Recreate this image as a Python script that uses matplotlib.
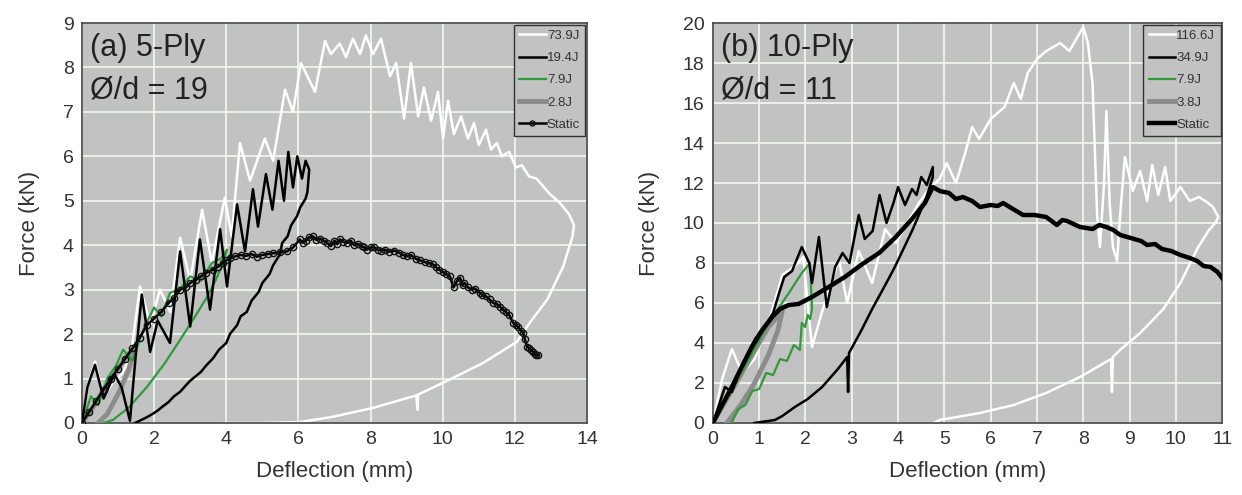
"""Force-deflection curves, 5-ply and 10-ply panels."""

import matplotlib

matplotlib.use("Agg")

import matplotlib.pyplot as plt

plt.rcParams["font.family"] = ["Liberation Sans", "DejaVu Sans"]

# ---- panel (a) 5-Ply ----
a_white_x = [0, 0.15, 0.36, 0.6, 0.85, 1.1, 1.35, 1.61, 1.9, 2.16, 2.45, 2.72, 3.0, 3.33, 3.6,
             3.96, 4.15, 4.38, 4.66, 5.07, 5.3, 5.63, 5.85, 6.07, 6.46, 6.74, 6.9, 7.15, 7.32,
             7.51, 7.71, 7.87, 8.07, 8.29, 8.54, 8.71, 8.93, 9.12, 9.32, 9.48, 9.68, 9.87,
             10.01, 10.15, 10.31, 10.51, 10.7, 10.87, 11.0, 11.2, 11.34, 11.5, 11.64, 11.84,
             12.03, 12.2, 12.39, 12.6, 12.95, 13.25, 13.5, 13.64,
             13.6, 13.34, 12.9, 12.42, 12.06, 11.12, 10.0, 9.32, 9.3, 9.27, 8.07, 6.96, 6.04,
             5.0, 3.95]
a_white_y = [0, 0.8, 1.38, 0.6, 0.9, 1.1, 1.5, 3.07, 2.2, 3.0, 2.5, 4.17, 3.2, 4.8, 3.6,
             5.07, 4.2, 6.3, 5.45, 6.4, 5.9, 7.5, 7.0, 8.1, 7.45, 8.6, 8.3, 8.54, 8.23,
             8.65, 8.3, 8.72, 8.3, 8.65, 7.8, 8.1, 6.85, 8.1, 6.9, 7.55, 6.8, 7.45,
             6.4, 7.25, 6.5, 6.9, 6.4, 6.75, 6.25, 6.6, 6.15, 6.3, 6.0, 6.1,
             5.75, 5.8, 5.55, 5.5, 5.17, 4.95, 4.7, 4.45,
             4.2, 3.52, 2.78, 2.26, 1.83, 1.35, 0.9, 0.64, 0.3, 0.62, 0.34, 0.14, 0.02,
             0.0, 0.0]

a_black_x = [0, 0.15, 0.36, 0.6, 0.9, 1.1, 1.33, 1.5, 1.66, 1.89, 2.1, 2.44, 2.72, 3.0, 3.27,
             3.55, 3.83, 4.02, 4.3, 4.52, 4.74, 4.88, 5.1, 5.28, 5.45, 5.6, 5.72, 5.85, 5.97,
             6.1, 6.2, 6.3,
             6.25, 6.2, 6.05, 5.96, 5.8, 5.7, 5.55, 5.49, 5.3, 5.2, 5.0, 4.9, 4.7, 4.57, 4.4,
             4.3, 4.1, 4.0, 3.8, 3.63, 3.45, 3.3, 3.15, 3.0, 2.85, 2.72, 2.55, 2.4, 2.25, 2.1,
             1.95, 1.8, 1.6, 1.47]
a_black_y = [0, 0.8, 1.31, 0.55, 1.1, 0.8, 0.05, 1.6, 2.89, 1.6, 2.3, 1.8, 3.86, 2.17, 4.13,
             2.55, 4.36, 3.07, 4.92, 3.86, 5.26, 4.42, 5.6, 4.8, 5.9, 5.0, 6.1, 5.3, 6.0,
             5.5, 5.9, 5.7,
             5.2, 5.05, 4.85, 4.65, 4.45, 4.2, 4.05, 3.8, 3.55, 3.35, 3.15, 2.95, 2.75, 2.5, 2.4,
             2.2, 2.0, 1.8, 1.65, 1.45, 1.3, 1.15, 1.05, 0.95, 0.82, 0.7, 0.6, 0.47, 0.38, 0.28,
             0.2, 0.13, 0.05, 0.0]

a_green_x = [0, 0.25, 0.45, 0.7, 0.95, 1.14, 1.4, 1.7, 2.0, 2.2, 2.44, 2.7, 3.0, 3.3, 3.6,
             3.85, 4.02, 3.91, 3.7, 3.47, 3.1, 2.72, 2.3, 1.8, 1.3, 0.86, 0.6]
a_green_y = [0, 0.6, 0.4, 1.0, 1.3, 1.65, 1.4, 2.1, 2.6, 2.4, 2.93, 3.0, 3.3, 3.2, 3.6,
             3.7, 3.9, 3.6, 3.2, 2.84, 2.35, 1.87, 1.35, 0.81, 0.35, 0.07, 0.0]

a_gray_x = [0, 0.3, 0.6, 0.9, 1.2, 1.45, 1.3, 1.0, 0.7, 0.45]
a_gray_y = [0, 0.35, 0.75, 1.1, 1.45, 1.7, 1.2, 0.65, 0.2, 0.0]

a_static_x = [0, 0.2, 0.4, 0.6, 0.8, 1.0, 1.2, 1.4, 1.6, 1.8, 2.0, 2.2, 2.4, 2.56, 2.72, 2.88,
              3.0, 3.15, 3.3, 3.45, 3.63, 3.78, 3.9, 4.0, 4.1, 4.25, 4.4, 4.55, 4.7, 4.85, 5.0,
              5.15, 5.3, 5.5, 5.68, 5.85, 6.04, 6.12, 6.2, 6.3, 6.4, 6.5, 6.6, 6.7, 6.8, 6.9,
              7.0, 7.08, 7.15, 7.25, 7.35, 7.45, 7.55, 7.65, 7.75, 7.82, 7.9, 8.0, 8.1, 8.2,
              8.3, 8.4, 8.5, 8.65, 8.8, 8.9, 9.0, 9.12, 9.25, 9.38, 9.5, 9.62, 9.73, 9.82, 9.9,
              10.0, 10.1, 10.2, 10.3, 10.4, 10.48, 10.55, 10.6, 10.7, 10.8, 10.9, 11.03, 11.1,
              11.2, 11.3, 11.4, 11.5, 11.59, 11.67, 11.75, 11.85, 11.95, 12.03, 12.1, 12.17,
              12.23, 12.28, 12.34, 12.4, 12.45, 12.5, 12.55, 12.6, 12.64]
a_static_y = [0, 0.25, 0.5, 0.75, 1.0, 1.22, 1.45, 1.68, 1.92, 2.2, 2.35, 2.5, 2.7, 2.82, 3.0,
              3.05, 3.15, 3.22, 3.3, 3.38, 3.45, 3.52, 3.6, 3.66, 3.72, 3.75, 3.78, 3.76, 3.8,
              3.74, 3.78, 3.8, 3.82, 3.84, 3.86, 3.95, 4.13, 4.05, 4.1, 4.18, 4.2, 4.12, 4.15,
              4.1, 4.05, 3.98, 4.1, 4.02, 4.13, 4.08, 4.05, 4.1, 4.0, 4.03, 3.98, 3.95, 3.9,
              3.95, 3.95, 3.9, 3.88, 3.9, 3.85, 3.88, 3.83, 3.78, 3.75, 3.78, 3.7, 3.66, 3.62,
              3.6, 3.57, 3.5, 3.45, 3.4, 3.35, 3.3, 3.05, 3.2, 3.27, 3.1, 3.15, 3.05, 3.0, 3.02,
              2.93, 2.88, 2.85, 2.78, 2.7, 2.68, 2.62, 2.55, 2.5, 2.42, 2.26, 2.2, 2.15, 2.08,
              2.03, 1.88, 1.72, 1.68, 1.65, 1.6, 1.55, 1.52, 1.53]

a_labels = ["73.9J", "19.4J", "7.9J", "2.8J", "Static"]

# ---- panel (b) 10-Ply ----
b_white_x = [0, 0.2, 0.41, 0.63, 0.9, 1.2, 1.5, 1.75, 1.95, 2.14, 2.35, 2.72, 2.9, 3.15, 3.44,
             3.72, 3.95, 4.2, 4.45, 4.7, 4.9, 5.05, 5.25, 5.45, 5.6, 5.75, 6.0, 6.3, 6.5, 6.65,
             6.8, 7.0, 7.2, 7.5, 7.7, 7.85, 8.0, 8.1, 8.2, 8.3, 8.36, 8.45, 8.5, 8.57, 8.64,
             8.73, 8.8, 8.9, 9.07, 9.23, 9.38, 9.49, 9.62, 9.77, 9.88, 10.1, 10.3, 10.5, 10.7,
             10.8, 10.92,
             10.85, 10.7, 10.46, 10.1, 9.73, 9.23, 8.8, 8.64, 8.62, 8.6, 7.93, 7.2, 6.5, 5.77,
             4.9, 4.77]
b_white_y = [0, 2.2, 3.7, 2.5, 3.2, 5.0, 7.4, 7.8, 8.3, 3.8, 5.5, 8.2, 6.0, 8.6, 7.0,
             9.7, 9.0, 10.0, 11.0, 11.8, 12.2, 13.0, 12.0, 13.5, 14.8, 14.2, 15.2, 15.8, 17.0, 16.2,
             17.5, 18.2, 18.6, 19.0, 18.6, 19.2, 19.8, 19.0, 17.0, 10.4, 8.8, 12.0, 15.6, 11.0, 8.8,
             8.1, 10.5, 13.3, 11.6, 12.6, 11.1, 12.9, 11.4, 12.8, 11.1, 11.8, 11.1, 11.3, 11.0,
             10.8, 10.3,
             10.0, 9.6, 8.7, 7.0, 5.7, 4.5, 3.66, 3.3, 1.55, 3.2, 2.3, 1.5, 0.9, 0.5,
             0.15, 0.0]

b_black_x = [0, 0.26, 0.41, 0.65, 0.91, 1.12, 1.3, 1.43, 1.54, 1.71, 1.92, 2.08, 2.14, 2.29,
             2.46, 2.64, 2.8, 2.95, 3.15, 3.28, 3.45, 3.6, 3.75, 3.9, 4.0, 4.15, 4.3, 4.4, 4.5,
             4.62, 4.75,
             4.75, 4.6, 4.3, 3.93, 3.7, 3.44, 3.2, 2.94, 2.92, 2.9, 2.7, 2.36, 2.05, 1.77, 1.5,
             1.34, 0.9]
b_black_y = [0, 1.8, 1.55, 3.0, 4.2, 4.8, 5.5, 6.5, 7.3, 7.6, 8.8, 8.0, 7.0, 9.3,
             5.8, 7.8, 8.5, 8.0, 10.4, 9.2, 9.6, 11.4, 10.0, 11.0, 11.8, 10.9, 11.7, 11.4, 12.3,
             11.9, 12.8,
             12.3, 11.2, 9.6, 7.8, 6.8, 5.7, 4.6, 3.5, 1.55, 3.3, 2.7, 1.8, 1.2, 0.8, 0.35,
             0.15, 0.0]

b_green_x = [0, 0.4, 0.8, 1.2, 1.64, 1.92, 2.1, 2.14, 2.1, 2.05, 1.99, 1.92, 1.88, 1.75, 1.6,
             1.45, 1.3, 1.15, 1.0, 0.85, 0.7, 0.55, 0.4]
b_green_y = [0, 1.6, 3.3, 5.0, 6.5, 7.5, 8.0, 5.7, 5.2, 5.4, 4.8, 5.0, 3.65, 3.9, 3.1,
             3.2, 2.4, 2.5, 1.7, 1.6, 0.9, 0.7, 0.0]

b_gray_x = [0, 0.4, 0.8, 1.2, 1.5, 1.4, 1.2, 0.9, 0.6, 0.3]
b_gray_y = [0, 1.6, 3.2, 4.8, 5.6, 4.6, 3.4, 2.0, 0.9, 0.0]

b_static_x = [0, 0.2, 0.41, 0.6, 0.84, 1.05, 1.28, 1.45, 1.64, 1.85, 2.14, 2.5, 2.85, 3.2, 3.59,
              3.95, 4.3, 4.58, 4.75, 4.9, 5.1, 5.25, 5.4, 5.6, 5.77, 6.0, 6.15, 6.27, 6.48, 6.7,
              6.95, 7.2, 7.43, 7.55, 7.65, 7.93, 8.2, 8.35, 8.5, 8.65, 8.8, 9.1, 9.25, 9.38,
              9.55, 9.7, 9.9, 10.1, 10.3, 10.46, 10.6, 10.75, 10.9, 11.0]
b_static_y = [0, 0.9, 1.8, 2.7, 3.8, 4.6, 5.3, 5.7, 5.9, 5.95, 6.3, 6.8, 7.3, 7.9, 8.5,
              9.3, 10.2, 11.0, 11.8, 11.6, 11.5, 11.2, 11.3, 11.1, 10.8, 10.9, 10.85, 11.0, 10.7,
              10.4, 10.4, 10.3, 9.9, 10.15, 10.1, 9.8, 9.7, 9.9, 9.8, 9.65, 9.4, 9.2, 9.1, 8.9,
              8.95, 8.7, 8.6, 8.4, 8.25, 8.1, 7.85, 7.8, 7.55, 7.25]

b_labels = ["116.6J", "34.9J", "7.9J", "3.8J", "Static"]

AX_BG = "#c2c2c2"
GRID = "#eef4ee"
INK = "#333333"
GREEN = "#2f9a3a"
GRAY = "#8c8c8c"


def draw_panel(ax, series, labels, static_marker, xmax, xstep, ymax, ystep, title):
    (wx, wy), (bx, by), (gx, gy), (rx, ry), (sx, sy) = series
    ax.set_facecolor(AX_BG)
    h_white, = ax.plot(wx, wy, color="white", lw=1.8, label=labels[0], zorder=2)
    h_gray, = ax.plot(rx, ry, color=GRAY, lw=3.5, label=labels[3], zorder=3)
    h_green, = ax.plot(gx, gy, color=GREEN, lw=1.6, label=labels[2], zorder=4)
    h_black, = ax.plot(bx, by, color="black", lw=1.8, label=labels[1], zorder=5)
    if static_marker:
        h_static, = ax.plot(sx, sy, color="black", lw=1.8, marker="o", ms=4.5,
                            mfc="none", mec="#111111", mew=1.0, label=labels[4], zorder=6)
    else:
        h_static, = ax.plot(sx, sy, color="black", lw=3.2, label=labels[4], zorder=6)

    ax.set_xlim(0, xmax)
    ax.set_ylim(0, ymax)
    ax.set_xticks(range(0, xmax + 1, xstep))
    ax.set_yticks(range(0, ymax + 1, ystep))
    ax.grid(True, color=GRID, lw=1.3)
    ax.set_axisbelow(True)
    ax.tick_params(length=0, labelsize=14, labelcolor=INK, pad=6)
    for spine in ax.spines.values():
        spine.set_color("#444444")
        spine.set_linewidth(1.2)
    ax.set_xlabel("Deflection (mm)", fontsize=16, color=INK, labelpad=9)
    ax.set_ylabel("Force (kN)", fontsize=16, color=INK, labelpad=16)

    ax.text(0.015, 0.975, title[0], transform=ax.transAxes, fontsize=22,
            color="#222222", va="top", ha="left", zorder=8)
    ax.text(0.015, 0.87, title[1], transform=ax.transAxes, fontsize=22,
            color="#222222", va="top", ha="left", zorder=8)

    leg = ax.legend(handles=[h_white, h_black, h_green, h_gray, h_static],
                    loc="upper right", fontsize=9.5, frameon=True, fancybox=False,
                    framealpha=1, facecolor=AX_BG, edgecolor="#333333",
                    handlelength=2.0, handletextpad=0.1, labelspacing=0.75,
                    borderpad=0.4, borderaxespad=0.12, numpoints=1, markerscale=0.8)
    leg.set_zorder(10)
    for text in leg.get_texts():
        text.set_color(INK)


fig = plt.figure(figsize=(12.42, 4.95), dpi=100)
ax_a = fig.add_axes([0.066, 0.1455, 0.4066, 0.808])
ax_b = fig.add_axes([0.574, 0.1455, 0.41, 0.808])

draw_panel(ax_a,
           [(a_white_x, a_white_y), (a_black_x, a_black_y), (a_green_x, a_green_y),
            (a_gray_x, a_gray_y), (a_static_x, a_static_y)],
           a_labels, True, 14, 2, 9, 1, ["(a) 5-Ply", "Ø/d = 19"])
draw_panel(ax_b,
           [(b_white_x, b_white_y), (b_black_x, b_black_y), (b_green_x, b_green_y),
            (b_gray_x, b_gray_y), (b_static_x, b_static_y)],
           b_labels, False, 11, 1, 20, 2, ["(b) 10-Ply", "Ø/d = 11"])

fig.savefig("out.png", dpi=100)
plt.close(fig)
